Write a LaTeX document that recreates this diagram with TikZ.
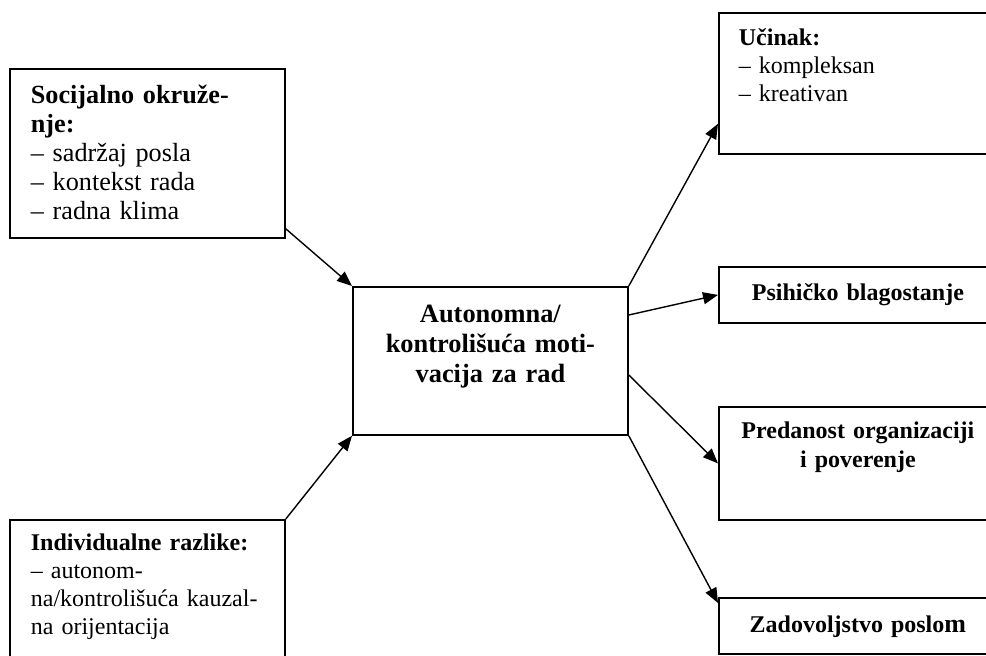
\documentclass[tikz,border=0pt]{standalone}
\usepackage{fontspec}
\setmainfont{Liberation Serif}
\usetikzlibrary{positioning,arrows.meta}

\tikzset{
  box/.style={shape=rectangle,draw=black,line width=1.8pt,inner ysep=0pt,anchor=north west},
  big/.style={font=\fontsize{26.2}{29.0}\selectfont},
  bigbf/.style={font=\fontsize{26.4}{29.8}\selectfont\bfseries},
  small/.style={font=\fontsize{24}{27.8}\selectfont},
  smallbf/.style={font=\fontsize{24}{28.3}\selectfont\bfseries},
  arr/.style={-{Triangle[length=15pt,width=12pt]},line width=1.4pt}
}

\begin{document}
\begin{tikzpicture}[x=1pt,y=-1pt]
  \useasboundingbox (0,0) rectangle (986,656);
  \clip (0,0) rectangle (986,656);
  \node[box,big,align=left,inner xsep=21pt,text width=233pt,text height=35pt,text depth=134pt] (soc) at (9,68) {\textbf{Socijalno okruže-}\\\textbf{nje:}\\– sadržaj posla\\– kontekst rada\\– radna klima};
  \node[box,small,align=left,inner xsep=21pt,text width=233pt,text height=31pt,text depth=150pt] (ind) at (9,519) {\textbf{Individualne razlike:}\\– autonom-\\na/kontrolišuća kauzal-\\na orijentacija};
  \node[box,bigbf,align=center,inner xsep=10pt,text width=255pt,text height=36pt,text depth=112pt] (mot) at (352,286) {Autonomna/\\kontrolišuća moti-\\vacija za rad};
  \node[box,small,align=left,inner xsep=20pt,text width=238pt,text height=33pt,text depth=108pt] (ucin) at (718,12) {\textbf{Učinak:}\\– kompleksan\\– kreativan};
  \node[box,smallbf,align=center,inner xsep=10pt,text width=258pt,text height=34pt,text depth=22pt] (psih) at (718,266) {Psihičko blagostanje};
  \node[box,smallbf,align=center,inner xsep=10pt,text width=258pt,text height=32pt,text depth=81pt] (pred) at (718,406) {Predanost organizaciji\\i poverenje};
  \node[box,smallbf,align=center,inner xsep=10pt,text width=258pt,text height=35pt,text depth=21pt] (zad) at (718,597) {Zadovoljstvo poslo{\fontsize{26}{26}\selectfont m}};
  % ulazi
  \draw[arr] ([yshift=10pt]soc.south east) -- (mot.north west);
  \draw[arr] (ind.north east) -- (mot.south west);
  % izlazi
  \draw[arr] (mot.north east) -- ([yshift=31pt]ucin.south west);
  \draw[arr] ([yshift=-29pt]mot.north east) -- (psih.west);
  \draw[arr] ([yshift=-89pt]mot.north east) -- (pred.west);
  \draw[arr] (mot.south east) -- ([yshift=-6pt]zad.north west);
\end{tikzpicture}
\end{document}
